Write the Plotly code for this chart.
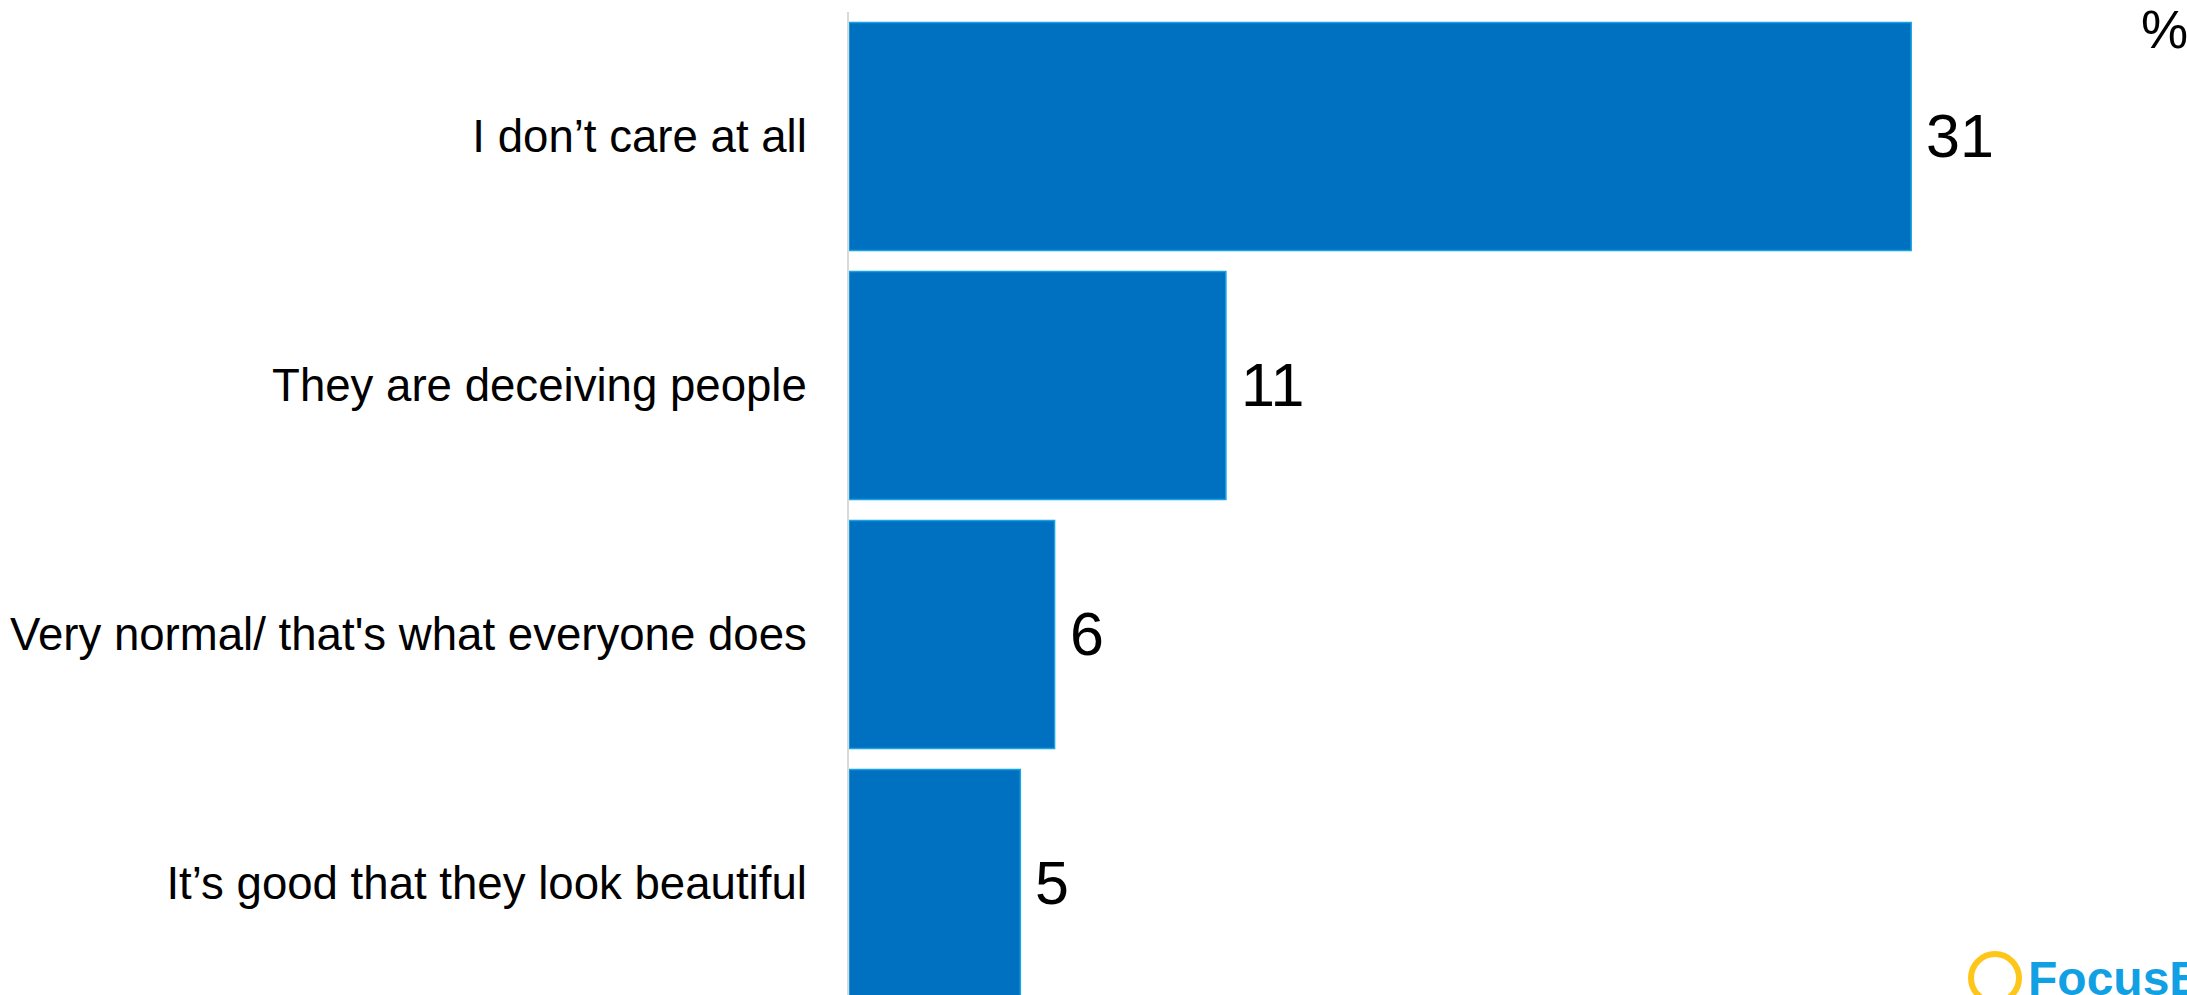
import plotly.graph_objects as go

# Survey answers, percentage of respondents
categories = [
    "I don’t care at all",
    "They are deceiving people",
    "Very normal/ that's what everyone does",
    "It’s good that they look beautiful",
]
values = [31, 11, 6, 5]

W, H = 2187, 995
ML, MT = 849, 12
BAR_COLOR = "#0070C0"
EDGE_COLOR = "#1AA3E3"
REGULAR = "Liberation Sans, Arial, sans-serif"

fig = go.Figure(
    go.Bar(
        x=values,
        y=categories,
        orientation="h",
        marker=dict(color=BAR_COLOR, line=dict(color=EDGE_COLOR, width=1.5)),
        hoverinfo="skip",
    )
)

# value labels just right of each bar
for c, v in zip(categories, values):
    fig.add_annotation(
        x=v, y=c, xref="x", yref="y",
        text=str(v), showarrow=False,
        xanchor="left", yanchor="middle", xshift=13,
        font=dict(family=REGULAR, size=61, color="#000000"),
    )

# unit marker in the top-right corner
fig.add_annotation(
    x=1, y=1, xref="paper", yref="paper",
    text="%", showarrow=False, xanchor="right", yanchor="top",
    xshift=3, yshift=14,
    font=dict(family=REGULAR, size=53, color="#000000"),
)

# brand mark at the bottom-right corner
plot_w = W - ML
plot_h = H - MT
cx, cy, rad = 1995, 978, 24
fig.add_shape(
    type="circle", xref="paper", yref="paper",
    x0=(cx - rad - ML) / plot_w, x1=(cx + rad - ML) / plot_w,
    y0=(H - (cy + rad)) / plot_h, y1=(H - (cy - rad)) / plot_h,
    line=dict(color="#FFC61A", width=6), fillcolor="rgba(0,0,0,0)",
)
fig.add_annotation(
    x=(2026 - ML) / plot_w, y=0, xref="paper", yref="paper",
    text="<b>FocusB</b>", showarrow=False, xanchor="left", yanchor="top",
    yshift=45,
    font=dict(family=REGULAR, size=48, color="#12A0E4"),
)

fig.update_layout(
    width=W, height=H,
    margin=dict(l=ML, r=0, t=MT, b=0, pad=0, autoexpand=False),
    paper_bgcolor="white", plot_bgcolor="white",
    bargap=0.084,
    showlegend=False,
    xaxis=dict(range=[0, 39.05], visible=False, fixedrange=True),
    yaxis=dict(
        type="category",
        categoryorder="array", categoryarray=categories,
        range=[3.448, -0.5],
        showline=True, linecolor="#D9D9D9", linewidth=2,
        showgrid=False, zeroline=False, ticks="",
        automargin=False,
        ticklabelstandoff=31,
        tickfont=dict(family=REGULAR, size=45.6, color="#000000"),
        fixedrange=True,
    ),
)

fig.write_html("out.html", config={"displayModeBar": False})
